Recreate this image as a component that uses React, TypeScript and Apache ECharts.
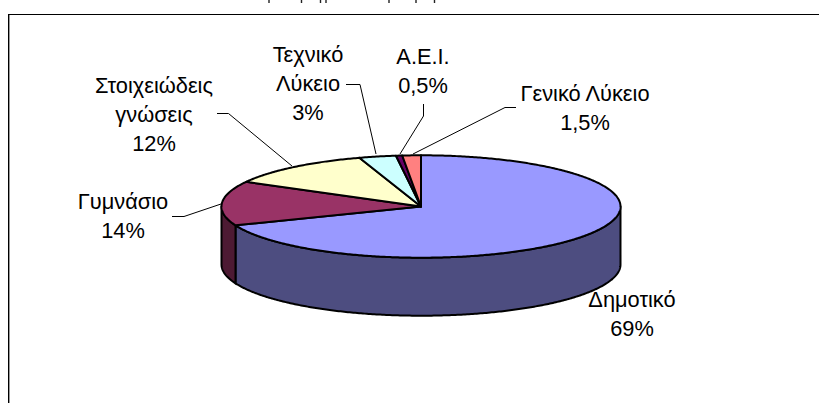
import React, { useEffect, useRef } from "react";
import * as echarts from "echarts";

// Data, in drawing order, clockwise from twelve o'clock
const categories = ["Δημοτικό", "Γυμνάσιο", "Στοιχειώδεις\nγνώσεις", "Τεχνικό\nΛύκειο", "Α.Ε.Ι.", "Γενικό Λύκειο"];
const shares = [69, 14, 12, 3, 0.5, 1.5];
const topColors = ["#9999FF", "#993366", "#FFFFCC", "#CCFFFF", "#660066", "#FF8080"];
const wallColors = ["#4D4D80", "#4D1A33", "#80805F", "#668080", "#330033", "#804040"];

// Layout of the tilted pie
const CX = 421;
const CY = 206.5;
const RX = 199.5;
const RY = 51.2;
const DEPTH = 58;
const FONT = '"Liberation Sans", Arial, sans-serif';

// Label anchors and leader lines (layout, not data)
const labelCentres: number[][] = [
  [632, 314],
  [123, 216],
  [154, 114],
  [308, 83],
  [423, 71],
  [585, 108],
];
const leaders: number[][][] = [
  [],
  [[172, 216.5], [184, 216.5], [221, 204]],
  [[217, 113.5], [228.5, 113.5], [292, 166]],
  [[346, 84.5], [360, 84.5], [376, 154]],
  [[423.5, 104], [423.5, 116], [400, 154]],
  [[516, 107.5], [505, 107.5], [413, 154]],
];
const clippedTitleTicks = [269, 301.5, 320.5, 326, 389, 416, 434.5];

const total = shares.reduce((a, b) => a + b, 0);
const angleOf = (share: number) => (share / total) * Math.PI * 2;
const startAngles: number[] = [];
shares.reduce((acc, v, i) => {
  startAngles[i] = acc;
  return acc + angleOf(v);
}, 0);

const pt = (t: number, dy = 0): number[] => [CX + RX * Math.sin(t), CY - RY * Math.cos(t) + dy];
const arc = (a: number, b: number, dy = 0): number[][] => {
  const n = Math.max(2, Math.ceil(Math.abs(b - a) / 0.01));
  const out: number[][] = [];
  for (let i = 0; i <= n; i++) out.push(pt(a + ((b - a) * i) / n, dy));
  return out;
};

const pieData = shares.map((v, i) => ({ name: categories[i], value: v }));
const percentText = (v: number) => `${String(v).replace(".", ",")}%`;

const renderWall = (params: any, api: any) => {
  const i = params.dataIndex;
  const a = Math.max(startAngles[i], Math.PI / 2);
  const b = Math.min(startAngles[i] + angleOf(api.value(0)), (Math.PI * 3) / 2);
  if (b <= a) return { type: "group", children: [] };
  const points = [...arc(a, b), ...arc(b, a, DEPTH)];
  return {
    type: "polygon",
    shape: { points },
    style: { fill: wallColors[i], stroke: "#000", lineWidth: 2, lineJoin: "round" },
  };
};

const renderTop = (params: any, api: any) => {
  const i = params.dataIndex;
  const v = api.value(0);
  const a = startAngles[i];
  const b = a + angleOf(v);
  const children: any[] = [
    {
      type: "polygon",
      shape: { points: [[CX, CY], ...arc(a, b)] },
      style: { fill: topColors[i], stroke: "#000", lineWidth: 2, lineJoin: "round" },
    },
  ];
  if (leaders[i].length) {
    children.push({
      type: "polyline",
      shape: { points: leaders[i] },
      style: { fill: "none", stroke: "#000", lineWidth: 1 },
    });
  }
  children.push({
    type: "text",
    style: {
      x: labelCentres[i][0],
      y: labelCentres[i][1],
      text: `${categories[i]}\n${percentText(v)}`,
      align: "center",
      verticalAlign: "middle",
      fontFamily: FONT,
      fontSize: 21.8,
      lineHeight: 29,
      fill: "#000",
    },
  });
  return { type: "group", children };
};

export default function App() {
  const ref = useRef<HTMLDivElement>(null);
  useEffect(() => {
    document.body.style.margin = "0";
    const chart = echarts.init(ref.current!, undefined, { renderer: "svg" });
    chart.setOption({
      animation: false,
      backgroundColor: "#fff",
      tooltip: { show: false },
      graphic: [
        ...clippedTitleTicks.map((x) => ({
          type: "rect",
          silent: true,
          shape: { x: x - 0.7, y: 0, width: 1.4, height: 3 },
          style: { fill: "#222" },
        })),
        { type: "rect", silent: true, shape: { x: 8, y: 14, width: 811, height: 1 }, style: { fill: "#000" } },
        { type: "rect", silent: true, shape: { x: 8, y: 14, width: 1, height: 389 }, style: { fill: "#000" } },
        { type: "rect", silent: true, shape: { x: 9, y: 15, width: 1, height: 388 }, style: { fill: "#999" } },
      ],
      series: [
        { type: "custom", coordinateSystem: "none", silent: true, z: 2, data: pieData, renderItem: renderWall },
        { type: "custom", coordinateSystem: "none", silent: true, z: 3, data: pieData, renderItem: renderTop },
      ],
    });
    return () => chart.dispose();
  }, []);
  return <div ref={ref} style={{ position: "relative", width: 819, height: 403 }} />;
}
